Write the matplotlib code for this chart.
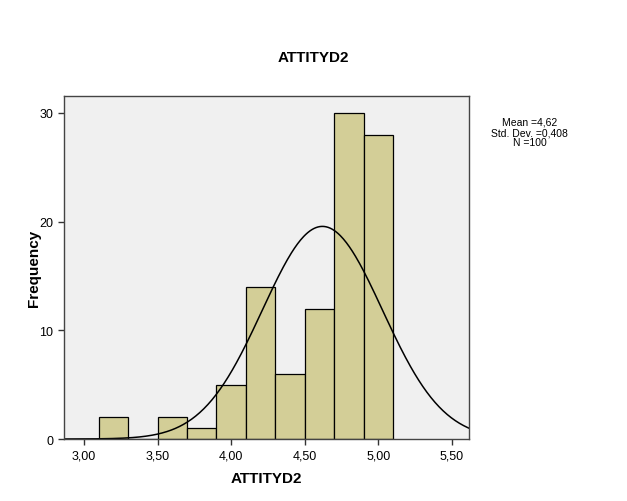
import numpy as np
import matplotlib
matplotlib.use("Agg")
import matplotlib.pyplot as plt

plt.rcParams['font.family'] = ['Liberation Sans', 'DejaVu Sans']

# dados do histograma (bins de largura 0,2)
bin_edges = [3.1, 3.3, 3.5, 3.7, 3.9, 4.1, 4.3, 4.5, 4.7, 4.9, 5.1]
frequencias = [2, 0, 2, 1, 5, 14, 6, 12, 30, 28]
media = 4.62
desvio = 0.408
n = 100
xticks = [3.0, 3.5, 4.0, 4.5, 5.0, 5.5]
xtick_labels = ['3,00', '3,50', '4,00', '4,50', '5,00', '5,50']
yticks = [0, 10, 20, 30]

fig = plt.figure(figsize=(6.27, 5.02), dpi=100)
ax = fig.add_axes([0.102, 0.1235, 0.646, 0.6835])
ax.set_facecolor('#f0f0f0')

largura = np.diff(bin_edges)
ax.bar(bin_edges[:-1], frequencias, width=largura, align='edge',
       color='#d3ce97', edgecolor='#000000', linewidth=0.9)

# curva normal
xs = np.linspace(2.86, 5.62, 400)
bw = bin_edges[1] - bin_edges[0]
ys = n * bw / (desvio * np.sqrt(2 * np.pi)) * np.exp(-0.5 * ((xs - media) / desvio) ** 2)
ax.plot(xs, ys, color='black', linewidth=1.1)

ax.set_xlim(2.864, 5.616)
ax.set_ylim(0, 31.56)
ax.set_xticks(xticks)
ax.set_xticklabels(xtick_labels, fontsize=9)
ax.set_yticks(yticks)
ax.tick_params(axis='y', labelsize=9)
ax.tick_params(direction='out', length=4, width=1, color='#333333')
for s in ax.spines.values():
    s.set_color('#444444')
    s.set_linewidth(1)

ax.set_xlabel('ATTITYD2', fontsize=11, fontweight='bold', labelpad=7)
ax.set_ylabel('Frequency', fontsize=11, fontweight='bold', labelpad=-1)
fig.text(0.5, 0.884, 'ATTITYD2', ha='center', va='center', fontsize=11, fontweight='bold')

fig.text(0.845, 0.735, 'Mean =4,62\nStd. Dev. =0,408\nN =100', ha='center', va='center',
         fontsize=7.5, linespacing=1.05)

plt.savefig('out.png', dpi=100)
